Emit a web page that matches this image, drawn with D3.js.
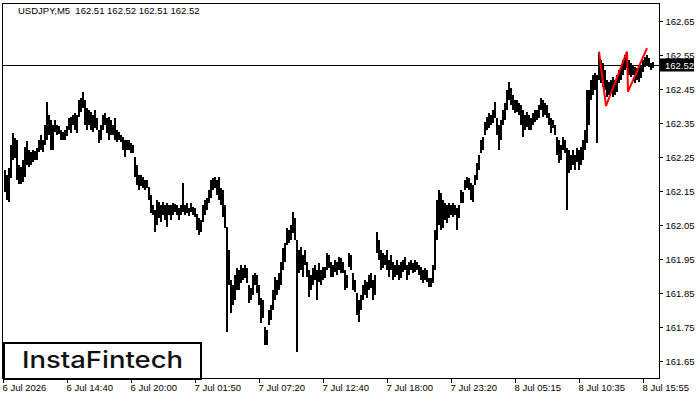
<!DOCTYPE html>
<html><head><meta charset="utf-8">
<script src="https://cdn.jsdelivr.net/npm/d3@7"></script>
<style>
html,body{margin:0;padding:0;background:#fff;}
svg{display:block;}
</style></head>
<body>
<svg id="chart" width="700" height="400"></svg>
<script>
// ---- DATA ----
const symbolTitle = "USDJPY,M5  162.51 162.52 162.51 162.52";
const lastPrice = 162.52;
const priceTicks = [161.65,161.75,161.85,161.95,162.05,162.15,162.25,162.35,162.45,162.55,162.65];
const timeTickBars = [0,64,128,192,256,320,384,448,512,576,640];
const timeTickLabels = ["6 Jul 2026","6 Jul 14:40","6 Jul 20:00","7 Jul 01:50","7 Jul 07:20","7 Jul 12:40","7 Jul 18:00","7 Jul 23:20","8 Jul 05:15","8 Jul 10:35","8 Jul 15:55"];
// one entry per 10 minutes (two M5 bars)
const highs = [
162.212,162.197,162.218,162.285,162.321,162.306,162.300,162.227,162.221,162.241,
162.280,162.297,162.271,162.265,162.271,162.268,162.277,162.300,162.315,162.300,
162.344,162.412,162.374,162.359,162.344,162.359,162.344,162.341,162.329,162.324,
162.329,162.341,162.365,162.368,162.374,162.379,162.374,162.418,162.424,162.441,
162.418,162.394,162.388,162.382,162.374,162.388,162.365,162.329,162.344,162.374,
162.379,162.365,162.368,162.359,162.344,162.365,162.329,162.324,162.315,162.309,
162.300,162.300,162.300,162.291,162.285,162.250,162.227,162.197,162.197,162.191,
162.182,162.182,162.162,162.138,162.109,162.094,162.124,162.118,162.109,162.118,
162.109,162.115,162.109,162.109,162.115,162.112,162.109,162.100,162.109,162.174,
162.109,162.115,162.100,162.115,162.103,162.100,162.083,162.071,162.065,162.109,
162.124,162.130,162.153,162.182,162.188,162.191,162.182,162.191,162.159,162.153,
162.109,162.044,161.977,161.888,161.874,161.903,161.924,161.918,161.933,161.924,
161.933,161.924,161.874,161.865,161.903,161.909,161.903,161.874,161.836,161.830,
161.750,161.741,161.800,161.815,161.859,161.897,161.888,161.909,161.941,161.983,
161.997,162.041,162.035,162.050,162.088,162.071,162.006,161.977,161.985,161.962,
161.977,161.941,161.918,161.903,161.924,161.933,161.918,161.938,161.918,161.927,
161.927,161.968,161.962,161.941,161.933,161.947,161.941,161.956,161.953,161.941,
161.918,161.903,161.968,161.962,161.909,161.888,161.850,161.830,161.844,161.874,
161.888,161.883,161.903,161.909,161.888,161.903,162.030,162.006,161.977,161.968,
161.962,161.977,161.947,161.962,161.941,161.933,161.947,161.933,161.941,161.947,
161.956,161.933,161.941,161.947,161.938,161.947,161.941,161.933,161.927,161.918,
161.924,161.918,161.894,161.894,161.933,162.035,162.124,162.153,162.144,162.124,
162.115,162.109,162.115,162.109,162.115,162.109,162.100,162.109,162.153,162.147,
162.182,162.191,162.188,162.174,162.168,162.197,162.232,162.256,162.300,162.309,
162.353,162.368,162.379,162.374,162.388,162.412,162.365,162.344,162.359,162.388,
162.409,162.447,162.471,162.453,162.432,162.418,162.418,162.409,162.403,162.388,
162.374,162.382,162.374,162.365,162.379,162.388,162.388,162.403,162.424,162.418,
162.409,162.403,162.379,162.365,162.359,162.344,162.309,162.300,162.285,162.309,
162.300,162.277,162.271,162.256,162.271,162.256,162.277,162.271,162.280,162.300,
162.329,162.447,162.447,162.476,162.491,162.497,162.491,162.556,162.535,162.526,
162.506,162.476,162.471,162.476,162.485,162.476,162.491,162.506,162.515,162.535,
162.550,162.556,162.535,162.526,162.521,162.515,162.512,162.515,162.521,162.535,
162.544,162.550,162.541,162.526,162.529
];
const lows = [
162.147,162.124,162.118,162.188,162.241,162.247,162.182,162.171,162.171,162.177,
162.191,162.227,162.221,162.227,162.235,162.241,162.241,162.265,162.271,162.265,
162.285,162.300,162.315,162.271,162.271,162.324,162.315,162.318,162.300,162.300,
162.300,162.312,162.329,162.321,162.344,162.329,162.321,162.368,162.382,162.394,
162.344,162.329,162.344,162.329,162.324,162.335,162.329,162.291,162.300,162.329,
162.344,162.321,162.300,162.315,162.315,162.300,162.294,162.300,162.294,162.271,
162.250,162.271,162.271,162.262,162.262,162.191,162.168,162.153,162.165,162.159,
162.153,162.159,162.124,162.085,162.080,162.030,162.050,162.071,162.059,162.080,
162.065,162.044,162.080,162.065,162.080,162.088,162.080,162.065,162.080,162.088,
162.080,162.085,162.077,162.088,162.080,162.074,162.035,162.021,162.030,162.059,
162.080,162.094,162.115,162.130,162.153,162.159,162.138,162.124,162.109,162.074,
162.041,161.736,161.874,161.791,161.815,161.830,161.859,161.859,161.880,161.888,
161.894,161.880,161.821,161.830,161.844,161.874,161.850,161.815,161.762,161.777,
161.697,161.697,161.756,161.771,161.800,161.830,161.844,161.859,161.874,161.918,
161.941,161.991,161.997,162.006,162.027,162.006,161.677,161.909,161.918,161.897,
161.933,161.897,161.838,161.859,161.874,161.888,161.830,161.883,161.874,161.888,
161.894,161.918,161.924,161.897,161.897,161.912,161.903,161.918,161.909,161.909,
161.859,161.865,161.927,161.918,161.859,161.853,161.786,161.765,161.800,161.830,
161.844,161.836,161.859,161.865,161.830,161.844,161.968,161.947,161.918,161.924,
161.933,161.918,161.897,161.918,161.888,161.897,161.903,161.888,161.894,161.912,
161.918,161.888,161.903,161.918,161.909,161.912,161.918,161.903,161.888,161.880,
161.888,161.883,161.868,161.868,161.880,161.918,162.006,162.050,162.035,162.041,
162.065,162.056,162.071,162.080,162.074,162.080,162.035,162.071,162.115,162.115,
162.153,162.159,162.153,162.124,162.118,162.168,162.182,162.212,162.262,162.271,
162.315,162.329,162.335,162.344,162.350,162.365,162.315,162.271,162.300,162.344,
162.359,162.388,162.418,162.403,162.388,162.379,162.382,162.374,162.344,162.309,
162.329,162.338,162.329,162.329,162.344,162.353,162.359,162.365,162.388,162.368,
162.374,162.365,162.344,162.321,162.335,162.315,162.256,162.232,162.241,162.271,
162.262,162.094,162.203,162.212,162.227,162.212,162.235,162.212,162.227,162.241,
162.271,162.291,162.344,162.418,162.432,162.447,162.291,162.476,162.468,162.456,
162.447,162.427,162.432,162.438,162.427,162.432,162.441,162.468,162.476,162.491,
162.506,162.512,162.491,162.485,162.491,162.468,162.476,162.471,162.482,162.500,
162.515,162.521,162.515,162.506,162.512
];
// pattern (red) vertices: M5 bar number and price
const patternBars = [596,603,624,625,644];
const patternPrices = [162.560,162.400,162.560,162.442,162.570];
const logoText = "InstaFintech";

// ---- CHART ----
const svg = d3.select("#chart");
const plotL = 3, plotR = 659, plotT = 3, plotB = 378.5;
const x = d3.scaleLinear().domain([0,656]).range([plotL,plotR]);
const y = d3.scaleLinear().domain([161.65,162.65]).range([361,21]);
const font = "'Liberation Sans', Arial, sans-serif";

// bars
const bars = highs.map((h,i)=>({bar:1+2*i, high:h, low:lows[i]}));
svg.append("g").attr("shape-rendering","crispEdges")
  .selectAll("rect").data(bars).join("rect")
  .attr("x", d=>Math.round(x(d.bar)))
  .attr("width", Math.round(x(2)-x(0)))
  .attr("y", d=>Math.round(y(d.high)))
  .attr("height", d=>Math.max(1, Math.round(y(d.low))-Math.round(y(d.high))))
  .attr("fill","#000");

// current price line
const yp = Math.round(y(lastPrice)) + 0.5;
svg.append("line").attr("x1",plotL).attr("x2",plotR).attr("y1",yp).attr("y2",yp)
  .attr("stroke","#000").attr("stroke-width",1).attr("shape-rendering","crispEdges");

// pattern lines
const pts = patternBars.map((b,i)=>[x(b), y(patternPrices[i])]);
svg.append("path").attr("d", d3.line()(pts)).attr("fill","none")
  .attr("stroke","#ff0000").attr("stroke-width",2).attr("stroke-linejoin","miter");

// frame
svg.append("rect").attr("x",plotL-0.5).attr("y",plotT+0.5).attr("width",plotR-plotL+1).attr("height",plotB-plotT-0.5)
  .attr("fill","none").attr("stroke","#000").attr("stroke-width",1).attr("shape-rendering","crispEdges");

// right axis
const ya = svg.append("g").attr("transform",`translate(${plotR+0.5},0)`)
  .call(d3.axisRight(y).tickValues(priceTicks).tickFormat(d3.format(".2f")).tickSize(3).tickPadding(3));
ya.select(".domain").remove();
ya.selectAll("line").attr("stroke","#000").attr("shape-rendering","crispEdges");
ya.selectAll("text").attr("font-family",font).attr("font-size","9.5px").attr("fill","#000");

// price label
svg.append("rect").attr("x",plotR+1).attr("y",yp-7).attr("width",34).attr("height",13).attr("fill","#000");
svg.append("text").attr("x",plotR+6).attr("y",yp+3.5).attr("font-family",font).attr("font-size","9.5px")
  .attr("fill","#fff").text(d3.format(".2f")(lastPrice));

// bottom axis
const xa = svg.append("g").attr("transform",`translate(0,${plotB})`)
  .call(d3.axisBottom(x).tickValues(timeTickBars).tickFormat((d,i)=>timeTickLabels[i]).tickSize(4).tickPadding(2));
xa.select(".domain").remove();
xa.selectAll("line").attr("stroke","#000").attr("shape-rendering","crispEdges");
xa.selectAll("text").attr("font-family",font).attr("font-size","9.5px").attr("fill","#000")
  .attr("text-anchor","start").attr("dx","-1");

// title
svg.append("text").attr("x",18).attr("y",14).attr("font-family",font).attr("font-size","9.5px")
  .attr("fill","#000").style("white-space","pre").text(symbolTitle);

// logo
svg.append("rect").attr("x",4).attr("y",343).attr("width",197).attr("height",36)
  .attr("fill","#fff").attr("stroke","#000").attr("stroke-width",2);
svg.append("text").attr("x",22).attr("y",367.5).attr("font-family","Inter, 'Open Sans', sans-serif")
  .attr("font-weight",500).attr("font-size","23.5px").attr("fill","#111")
  .attr("textLength",161).attr("lengthAdjust","spacingAndGlyphs").text(logoText);
</script>
</body></html>
